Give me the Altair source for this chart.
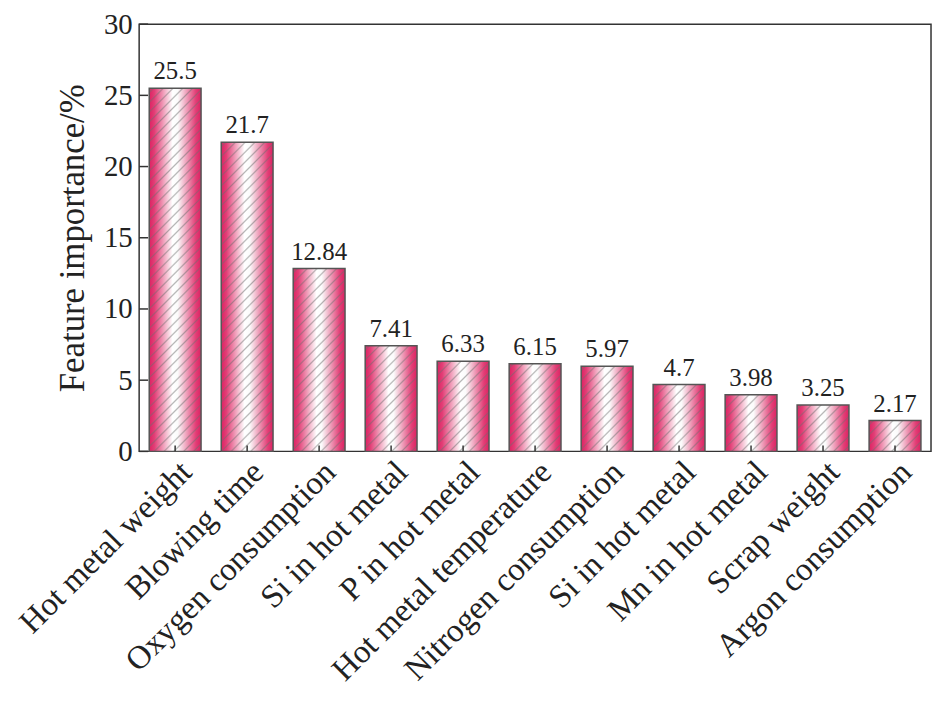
import math
import altair as alt
import pandas as pd

# ---- data ----
features = ["Hot metal weight", "Blowing time", "Oxygen consumption", "Si in hot metal",
            "P in hot metal", "Hot metal temperature", "Nitrogen consumption", "Si in hot metal",
            "Mn in hot metal", "Scrap weight", "Argon consumption"]
importance = [25.5, 21.7, 12.84, 7.41, 6.33, 6.15, 5.97, 4.7, 3.98, 3.25, 2.17]
value_labels = ["25.5", "21.7", "12.84", "7.41", "6.33", "6.15", "5.97", "4.7", "3.98", "3.25", "2.17"]
y_ticks = [0, 5, 10, 15, 20, 25, 30]

# ---- layout / style ----
W, H = 797, 430
YMAX = 30
PAD_IN, PAD_OUT = 0.28, 0.14
FONT = "Liberation Serif"
TXT = "#222222"
CRIMSON = "#dc2262"

n = len(features)
step = W / (n - PAD_IN + 2 * PAD_OUT)
bw = step * (1 - PAD_IN)

df = pd.DataFrame({"idx": list(range(n)), "v": importance, "lab": value_labels})
ticks_df = pd.DataFrame({"v": y_ticks})

label_expr = "[" + ",".join("'" + f + "'" for f in features) + "][datum.value]"

x_enc = alt.X(
    "idx:O",
    scale=alt.Scale(paddingInner=PAD_IN, paddingOuter=PAD_OUT),
    axis=alt.Axis(
        title=None, labelExpr=label_expr, labelAngle=315, labelAlign="right",
        labelFontSize=33, labelFont=FONT, labelColor=TXT, labelPadding=4,
        labelLimit=500, tickSize=0, domain=False, grid=False,
    ),
)
y_axis = alt.Axis(
    title="Feature importance/%", values=y_ticks, tickSize=0, labelPadding=7,
    labelFontSize=29, labelFont=FONT, labelColor=TXT,
    titleFontSize=35, titleFont=FONT, titleFontWeight="normal", titleColor=TXT,
    titlePadding=13, domain=False, grid=False,
)
y_scale = alt.Scale(domain=[0, YMAX], nice=False)
y_enc = alt.Y("v:Q", scale=y_scale, axis=y_axis)

base_grad = alt.Gradient(
    gradient="linear", x1=0, y1=0, x2=1, y2=0,
    stops=[
        alt.GradientStop(offset=0, color=CRIMSON),
        alt.GradientStop(offset=0.1, color="#e23e76"),
        alt.GradientStop(offset=0.45, color="#ffffff"),
        alt.GradientStop(offset=0.55, color="#fbfbfb"),
        alt.GradientStop(offset=0.9, color="#e23e76"),
        alt.GradientStop(offset=1, color=CRIMSON),
    ],
)

bars = alt.Chart(df).mark_bar(fill=base_grad).encode(x=x_enc, y=y_enc)

# diagonal hatch overlay ("/" lines), one gradient per bar sized to its box
P = 7.0      # perpendicular spacing, px
LW = 1.2     # half line width, px
HC = "110,110,110"
hatch_layers = []
for i, v in enumerate(importance):
    h = v / YMAX * H
    w = bw
    L = (w + h) / math.sqrt(2)
    a = (w + h) / (w * w + h * h)
    stops = [alt.GradientStop(offset=0, color=f"rgba({HC},0)")]
    k = 0
    while True:
        c = (k * P + 3.0) / L
        d = LW / L
        if c - d >= 1:
            break
        for off, col in ((c - d, f"rgba({HC},0)"), (c, f"rgba({HC},0.5)"),
                         (c + d, f"rgba({HC},0)")):
            off = min(max(off, 0.0), 1.0)
            stops.append(alt.GradientStop(offset=off, color=col))
        k += 1
    stops.append(alt.GradientStop(offset=1, color=f"rgba({HC},0)"))
    g = alt.Gradient(gradient="linear", x1=0, y1=0, x2=a * w, y2=a * h, stops=stops)
    hatch_layers.append(
        alt.Chart(df).transform_filter(alt.datum.idx == i)
        .mark_bar(fill=g, stroke="#555555", strokeWidth=1.5)
        .encode(x=x_enc, y=y_enc)
    )

texts = alt.Chart(df).mark_text(
    baseline="bottom", dy=-4, font=FONT, fontSize=25, color=TXT
).encode(x=x_enc, y=y_enc, text="lab:N")

ytick_marks = alt.Chart(ticks_df).mark_rule(color="#333333", strokeWidth=1.5).encode(
    y=y_enc, x=alt.value(0), x2=alt.value(9),
)
xtick_marks = alt.Chart(df).mark_rule(color="#333333", strokeWidth=1.5).encode(
    x=x_enc, y=alt.value(H), y2=alt.value(H - 6),
)

chart = alt.layer(bars, *hatch_layers, xtick_marks, ytick_marks, texts).properties(
    width=W, height=H,
    padding={"left": 132, "top": 14, "right": 2, "bottom": 250},
    autosize=alt.AutoSizeParams(type="none"),
    background="white",
).configure_view(stroke="#333333", strokeWidth=1.5)

chart.save("out.html", embed_options={"renderer": "svg", "actions": False})
